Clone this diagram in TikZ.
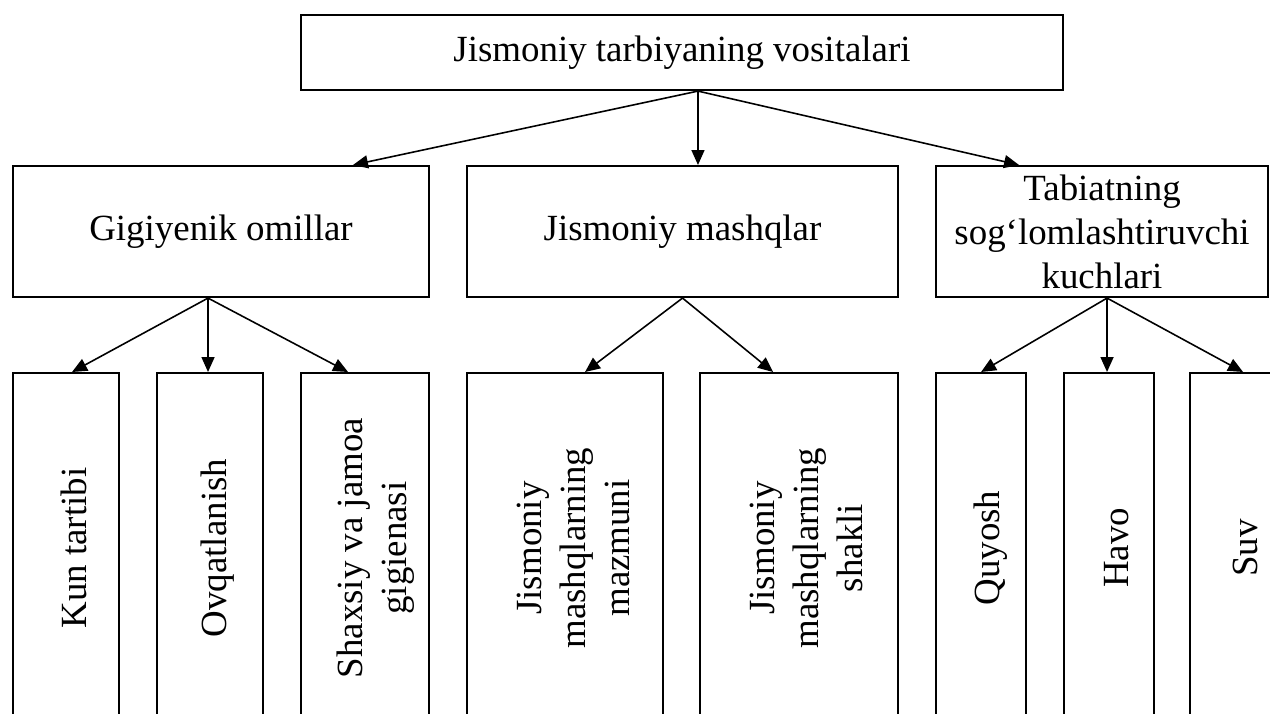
\documentclass[tikz,border=0pt]{standalone}
\usepackage{fontspec}
\setmainfont{Liberation Serif}
\usetikzlibrary{arrows.meta,positioning}

\begin{document}
\begin{tikzpicture}[x=0.02cm, y=-0.02cm,
    headbox/.style={draw, line width=1.2pt, rectangle, inner sep=0pt, anchor=north west, align=center, font=\fontsize{21}{25}\selectfont},
    colbox/.style={draw, line width=1.2pt, rectangle, inner sep=0pt, anchor=north west, minimum height=7cm},
    coltext/.style={rotate=90, align=center, inner sep=0pt, font=\fontsize{21}{25}\selectfont},
    linkarrow/.style={-{Triangle[length=3mm,width=2.6mm]}, line width=0.9pt}]

    \useasboundingbox (0,0) rectangle (1270,713);
    \fill[white] (0,0) rectangle (1270,713);
    \clip (0,0) rectangle (1270,713);

    % top level
    \node[headbox, minimum width=15.24cm, minimum height=1.5cm] (vosita) at (300,14) {Jismoniy tarbiyaning vositalari};

    % second level
    \node[headbox, minimum width=8.32cm, minimum height=2.62cm] (gig) at (12,165) {Gigiyenik omillar};
    \node[headbox, minimum width=8.62cm, minimum height=2.62cm] (mash) at (466,165) {Jismoniy mashqlar};
    \node[headbox, minimum width=6.64cm, minimum height=2.62cm] (tab) at (935,165) {Tabiatning\\sog‘lomlashtiruvchi\\kuchlari};

    % third level
    \node[colbox, minimum width=2.12cm] (kun) at (12,372) {};
    \node[colbox, minimum width=2.12cm] (ovq) at (156,372) {};
    \node[colbox, minimum width=2.56cm] (shax) at (300,372) {};
    \node[colbox, minimum width=3.92cm] (mazm) at (466,372) {};
    \node[colbox, minimum width=3.96cm] (shak) at (699,372) {};
    \node[colbox, minimum width=1.8cm] (quy) at (935,372) {};
    \node[colbox, minimum width=1.8cm] (havo) at (1063,372) {};
    \node[colbox, minimum width=1.8cm] (suv) at (1189,372) {};

    \node[coltext] (kun-t) at ([xshift=0.16cm]kun.center) {Kun tartibi};
    \node[coltext] (ovq-t) at ([xshift=0.16cm]ovq.center) {Ovqatlanish};
    \node[coltext] (shax-t) at ([xshift=0.22cm]shax.center) {Shaxsiy va jamoa\\gigienasi};
    \node[coltext] (mazm-t) at ([xshift=0.16cm]mazm.center) {Jismoniy\\mashqlarning\\mazmuni};
    \node[coltext] (shak-t) at ([xshift=0.14cm]shak.center) {Jismoniy\\mashqlarning\\shakli};
    \node[coltext] (quy-t) at ([xshift=0.2cm]quy.center) {Quyosh};
    \node[coltext] (havo-t) at ([xshift=0.16cm]havo.center) {Havo};
    \node[coltext] (suv-t) at ([xshift=0.2cm]suv.center) {Suv};

    % arrows
    \coordinate (vosita-s) at ([xshift=0.32cm]vosita.south);
    \coordinate (gig-s) at ([xshift=-0.26cm]gig.south);
    \coordinate (mash-s) at (mash.south);
    \coordinate (tab-s) at ([xshift=0.1cm]tab.south);

    \draw[linkarrow] (vosita-s) -- ([xshift=2.64cm]gig.north);
    \draw[linkarrow] (vosita-s) -- (vosita-s |- mash.north);
    \draw[linkarrow] (vosita-s) -- ([xshift=-1.66cm]tab.north);

    \draw[linkarrow] (gig-s) -- ([xshift=0.12cm]kun.north);
    \draw[linkarrow] (gig-s) -- (gig-s |- ovq.north);
    \draw[linkarrow] (gig-s) -- ([xshift=-0.34cm]shax.north);

    \draw[linkarrow] (mash-s) -- ([xshift=0.4cm]mazm.north);
    \draw[linkarrow] (mash-s) -- ([xshift=-0.52cm]shak.north);

    \draw[linkarrow] (tab-s) -- (quy.north);
    \draw[linkarrow] (tab-s) -- (tab-s |- havo.north);
    \draw[linkarrow] (tab-s) -- ([xshift=0.16cm]suv.north);

\end{tikzpicture}
\end{document}
